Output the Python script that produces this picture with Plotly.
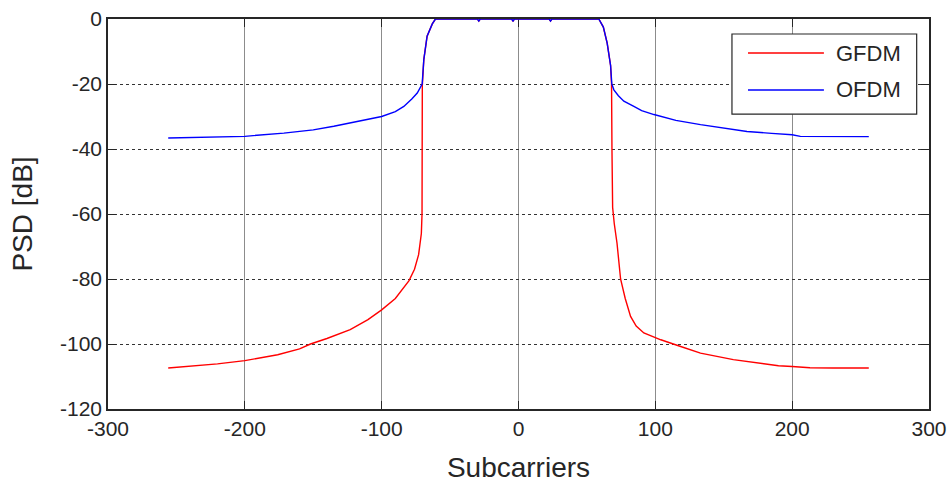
import plotly.graph_objects as go

# GFDM power spectral density (subcarrier index, dB)
gfdm_x = [-256, -240, -220, -200, -176, -160, -152, -140, -123, -110, -100, -90, -80, -76,
          -73, -71, -70.5, -70.4, -70.3, -69.2, -66.8, -63, -60.7,
          -30, -29, -28, -5, -4, -3, 22.4, 23.4, 24.4,
          58.7, 62, 64.8, 67.3, 68, 68.3, 68.8, 70, 72, 74.6, 78, 81.9, 86, 91.6,
          98, 104, 118, 133, 157, 177, 190, 200, 213, 230, 256]
gfdm_y = [-107.4, -106.9, -106.1, -105.1, -103.3, -101.5, -100, -98.3, -95.6, -92.5, -89.5,
          -86, -80.5, -77, -72.5, -66, -60, -40, -20.5, -12.5, -5.3, -1.5, 0,
          0, -0.6, 0, 0, -0.6, 0, 0, -0.6, 0,
          0, -2.5, -7.4, -14.3, -20, -40, -58, -63, -69, -80, -86, -91.5, -94.5, -96.6,
          -97.8, -98.7, -100.7, -102.8, -104.8, -106, -106.7, -106.9, -107.3, -107.4, -107.4]

# OFDM power spectral density (subcarrier index, dB)
ofdm_x = [-256, -240, -220, -200, -171.5, -150, -135, -120, -100, -90, -83.8, -78, -74,
          -70.4, -69.2, -66.8, -63, -60.7,
          -30, -29, -28, -5, -4, -3, 22.4, 23.4, 24.4,
          58.7, 62, 64.8, 67.3, 68.2, 69.7, 73, 77, 84.3, 90, 99, 115, 133, 150,
          167, 185, 200, 206, 230, 256]
ofdm_y = [-36.6, -36.4, -36.3, -36.1, -35.1, -34.1, -33.0, -31.8, -30, -28.5, -26.9, -24.6,
          -22.8, -20, -12.5, -5.3, -1.5, 0,
          0, -0.6, 0, 0, -0.6, 0, 0, -0.6, 0,
          0, -2.5, -7.4, -14.3, -20, -21.8, -23.6, -25.3, -26.9, -28.2, -29.4, -31.2,
          -32.5, -33.6, -34.6, -35.2, -35.6, -36.1, -36.2, -36.2]

x_ticks = [-300, -200, -100, 0, 100, 200, 300]
y_ticks = [-120, -100, -80, -60, -40, -20, 0]

series_names = ["GFDM", "OFDM"]
series_colors = ["#ff0000", "#0000ff"]

font = "Liberation Sans, Arial, sans-serif"
ink = "#262626"

fig = go.Figure()
for name, xs, ys, col in zip(series_names, [gfdm_x, ofdm_x], [gfdm_y, ofdm_y], series_colors):
    fig.add_trace(go.Scatter(x=xs, y=ys, mode="lines", name=name,
                             line=dict(color=col, width=1.4)))

# Boxed legend in the upper-right corner, drawn in paper coordinates
shapes = [dict(type="rect", xref="paper", yref="paper",
               x0=0.760, x1=0.985, y0=0.756, y1=0.9615,
               line=dict(color=ink, width=1.2), fillcolor="white", layer="above")]
annotations = []
row_y = [0.9128, 0.818]
for name, col, yy in zip(series_names, series_colors, row_y):
    shapes.append(dict(type="line", xref="paper", yref="paper",
                       x0=0.7795, x1=0.872, y0=yy, y1=yy,
                       line=dict(color=col, width=1.4), layer="above"))
    annotations.append(dict(xref="paper", yref="paper", x=0.884, y=yy,
                            xanchor="left", yanchor="middle", showarrow=False,
                            text=name, font=dict(family=font, size=22, color=ink)))

fig.update_layout(
    width=950, height=484,
    margin=dict(l=108, r=21, t=19, b=75),
    paper_bgcolor="white", plot_bgcolor="white",
    font=dict(family=font, size=21, color=ink),
    showlegend=False,
    shapes=shapes, annotations=annotations,
)
fig.update_xaxes(
    range=[-300, 300], tickvals=x_ticks, ticktext=[str(v) for v in x_ticks],
    tickfont=dict(family=font, size=21, color=ink),
    showgrid=True, gridcolor="#8c8c8c", gridwidth=1,
    showline=True, linecolor=ink, linewidth=1.5, mirror="ticks",
    ticks="inside", ticklen=8, tickcolor=ink,
    zeroline=False, layer="below traces", automargin=False,
    title=dict(text="Subcarriers", font=dict(family=font, size=28, color=ink), standoff=18),
)
fig.update_yaxes(
    range=[-120, 0], tickvals=y_ticks, ticktext=[str(v) for v in y_ticks],
    tickfont=dict(family=font, size=21, color=ink),
    showgrid=True, gridcolor="#333333", gridwidth=1, griddash="dot",
    showline=True, linecolor=ink, linewidth=1.5, mirror="ticks",
    ticks="inside", ticklen=8, tickcolor=ink,
    zeroline=False, layer="below traces", automargin=False,
    title=dict(text="PSD [dB]", font=dict(family=font, size=28, color=ink), standoff=19),
)

fig.write_html("out.html")
